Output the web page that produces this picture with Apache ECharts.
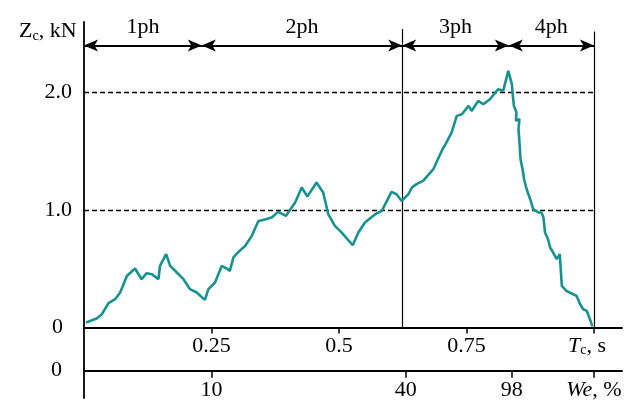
<!DOCTYPE html>
<html><head><meta charset="utf-8">
<script src="https://cdn.jsdelivr.net/npm/echarts@6/dist/echarts.min.js"></script>
<style>html,body{margin:0;padding:0;background:#fff}#c{width:629px;height:403px}</style>
</head><body><div id="c"></div>
<script>
// Data
const tc = [0.004,0.025,0.035,0.048,0.061,0.071,0.084,0.100,0.113,0.123,0.133,0.146,0.149,0.161,0.169,0.182,0.195,0.208,0.221,0.237,0.244,0.257,0.270,0.280,0.286,0.293,0.305,0.316,0.329,0.342,0.355,0.368,0.381,0.396,0.414,0.427,0.438,0.456,0.469,0.479,0.492,0.505,0.527,0.538,0.551,0.571,0.584,0.603,0.613,0.623,0.636,0.643,0.652,0.665,0.685,0.694,0.703,0.709,0.721,0.731,0.741,0.754,0.760,0.773,0.783,0.796,0.812,0.822,0.832,0.839,0.841,0.843,0.848,0.847,0.854,0.852,0.854,0.856,0.860,0.863,0.868,0.875,0.881,0.891,0.897,0.901,0.904,0.910,0.914,0.920,0.927,0.933,0.937,0.946,0.959,0.966,0.973,0.979,0.986,0.992,0.997];
const zc = [0.043,0.077,0.113,0.207,0.241,0.298,0.439,0.502,0.411,0.462,0.454,0.411,0.524,0.624,0.524,0.468,0.411,0.326,0.298,0.235,0.326,0.383,0.524,0.502,0.482,0.596,0.652,0.694,0.780,0.907,0.920,0.936,0.984,0.950,1.064,1.191,1.115,1.234,1.149,0.964,0.865,0.809,0.700,0.809,0.894,0.964,0.992,1.154,1.134,1.077,1.134,1.191,1.220,1.248,1.347,1.432,1.517,1.560,1.660,1.801,1.815,1.886,1.843,1.928,1.900,1.943,2.028,2.014,2.184,2.071,1.971,1.886,1.830,1.758,1.773,1.688,1.574,1.432,1.347,1.262,1.177,1.092,1.006,0.979,0.979,0.936,0.809,0.751,0.681,0.638,0.582,0.624,0.354,0.311,0.283,0.269,0.198,0.155,0.141,0.071,0.009];
const tcTicks = [0.25, 0.5, 0.75, 1.0];
const yTicks = [0, 1, 2];
const refLines = [1, 2];
const weLabels = ['10', '40', '98'];
const weTickTc = [0.25, 0.631, 0.839, 1.0];
const phaseNames = ['1ph', '2ph', '3ph', '4ph'];
const phaseBounds = [0, 0.231, 0.624, 0.833, 1.0];
const phaseArrowZ = 2.4;
const dividerTc = [0.624, 1.0];
const dividerTop = [2.54, 2.52];

const FONT = 'Liberation Serif';
const chart = echarts.init(document.getElementById('c'));
const curve = tc.map((t, i) => [t, zc[i]]);

const lineMarks = [];
refLines.forEach(v => lineMarks.push([
  {coord: [0, v], lineStyle: {type: [5, 3], width: 1.3, color: '#000'}},
  {coord: [1.0, v]}
]));
dividerTc.forEach((t, i) => lineMarks.push([
  {coord: [t, 0], lineStyle: {type: 'solid', width: 1.2, color: '#000'}},
  {coord: [t, dividerTop[i]]}
]));

const arrowMarks = phaseNames.map((n, i) => [
  {coord: [phaseBounds[i], phaseArrowZ], name: n},
  {coord: [phaseBounds[i + 1], phaseArrowZ]}
]);

chart.setOption({
  animation: false,
  title: {
    text: '{a|Z}{s|c}{a|, kN}',
    left: 14, top: 14,
    textStyle: {fontWeight: 'normal', rich: {
      a: {fontFamily: FONT, fontSize: 22, color: '#000', fontWeight: 'normal'},
      s: {fontFamily: FONT, fontSize: 14, color: '#000', fontWeight: 'normal', verticalAlign: 'bottom', padding: [10, 0, 0, 0]}
    }}
  },
  grid: {left: 84, right: 7, top: 22, bottom: 5, containLabel: false, outerBoundsMode: 'none'},
  xAxis: [{
    type: 'value', min: 0, max: 1.055, position: 'bottom', offset: -70.5,
    axisLine: {onZero: false, lineStyle: {color: '#000', width: 2}},
    axisTick: {show: true, customValues: tcTicks, length: 6, lineStyle: {color: '#000', width: 1.5}},
    splitLine: {show: false},
    axisLabel: {
      customValues: tcTicks, margin: 8, color: '#000', fontFamily: FONT, fontSize: 22,
      formatter: v => v >= 1 ? '{i|T}{s|c}{n|, s}' : String(v),
      rich: {
        i: {fontFamily: FONT, fontSize: 22, fontStyle: 'italic', color: '#000'},
        s: {fontFamily: FONT, fontSize: 14, color: '#000', verticalAlign: 'bottom', padding: [8, 0, 0, 0]},
        n: {fontFamily: FONT, fontSize: 22, color: '#000', padding: [0, 14, 0, 0]}
      }
    }
  }, {
    type: 'value', min: 0, max: 1.055, position: 'bottom', offset: -27.3,
    name: '0', nameLocation: 'start', nameGap: 22,
    nameTextStyle: {color: '#000', fontFamily: FONT, fontSize: 22},
    axisLine: {onZero: false, lineStyle: {color: '#000', width: 2}},
    axisTick: {show: true, customValues: weTickTc, length: 7, lineStyle: {color: '#000', width: 1.5}},
    splitLine: {show: false},
    axisLabel: {
      customValues: weTickTc, margin: 9, color: '#000', fontFamily: FONT, fontSize: 22,
      formatter: v => {
        const i = weTickTc.indexOf(v);
        return i >= 0 && i < weLabels.length ? weLabels[i] : '{i|We}{n|, %}';
      },
      rich: {
        i: {fontFamily: FONT, fontSize: 22, fontStyle: 'italic', color: '#000'},
        n: {fontFamily: FONT, fontSize: 22, color: '#000'}
      }
    }
  }],
  yAxis: {
    type: 'value', min: -0.6, max: 2.6,
    axisLine: {show: true, onZero: false, lineStyle: {color: '#000', width: 1.8}},
    axisTick: {show: false},
    splitLine: {show: false},
    axisLabel: {
      customValues: yTicks, margin: 12, color: '#000', fontFamily: FONT, fontSize: 22,
      formatter: v => v === 0 ? '{z|0}' : v.toFixed(1),
      rich: {z: {fontFamily: FONT, fontSize: 22, color: '#000', padding: [0, 9, 0, 0]}}
    }
  },
  series: [{
    type: 'line', data: curve, xAxisIndex: 0, yAxisIndex: 0,
    showSymbol: false, symbol: 'none',
    lineStyle: {color: '#17928f', width: 2.6},
    z: 5,
    markLine: {silent: true, symbol: 'none', label: {show: false}, data: lineMarks, z: 3}
  }, {
    type: 'line', data: [], xAxisIndex: 0, yAxisIndex: 0,
    markLine: {
      silent: true, symbol: ['arrow', 'arrow'], symbolSize: [9, 14],
      lineStyle: {type: 'solid', color: '#000', width: 2},
      itemStyle: {color: '#000'},
      label: {show: true, position: 'middle', distance: 7, formatter: p => p.name,
        color: '#000', fontFamily: FONT, fontSize: 22},
      data: arrowMarks
    }
  }]
});
</script></body></html>
